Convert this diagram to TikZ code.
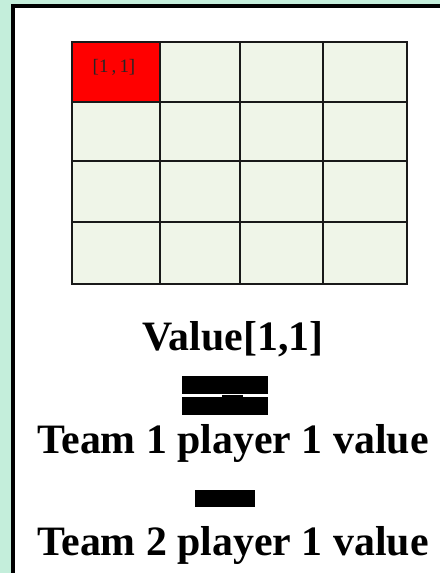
\documentclass[tikz,border=0pt]{standalone}
\usepackage{fontspec}
\setmainfont{Liberation Serif}
\definecolor{mint}{HTML}{C4EEDB}
\definecolor{cellfill}{HTML}{EFF5E8}
\definecolor{cellred}{HTML}{FF0000}
\tikzset{
  cellbox/.style={draw=black!90, line width=2.5bp, fill=cellfill},
  bigtext/.style={font=\fontsize{42}{42}\selectfont\bfseries, inner sep=0pt, anchor=base},
  barbox/.style={fill=black, draw=none, inner sep=0pt}
}
\begin{document}
\begin{tikzpicture}[x=1bp, y=-1bp]
\useasboundingbox (0,0) rectangle (440,573);
\clip (0,0) rectangle (440,573);
\fill[mint] (0,0) rectangle (440,573);
\draw[line width=3.5bp, fill=white] (13,6) rectangle (470,610);
% grid
\foreach \r/\ya/\yb in {1/42/102, 2/102/161, 3/161/222, 4/222/284}{
  \foreach \c/\xa/\xb in {1/72/160, 2/160/240, 3/240/323, 4/323/407}{
    \path[cellbox] (\xa,\ya) rectangle (\xb,\yb);
  }
}
\path[cellbox, fill=cellred] (72,42) rectangle (160,102);
\node[font=\fontsize{19}{19}\selectfont, text=black!85, inner sep=0pt] (lbl) at (114,67) {[1\,,\,1]};
% texts
\node[bigtext] (val) at (233,350) {Value[1,1]};
\node[bigtext] (t1) at (233,453) {Team 1 player 1 value};
\node[bigtext] (t2) at (233,555) {Team 2 player 1 value};
% equals sign
\fill (182,376) rectangle (268,394);
\fill (182,397) rectangle (268,415);
\fill (222,395) rectangle (243,397);
% minus sign
\fill (195,490) rectangle (255,507);
\end{tikzpicture}
\end{document}
